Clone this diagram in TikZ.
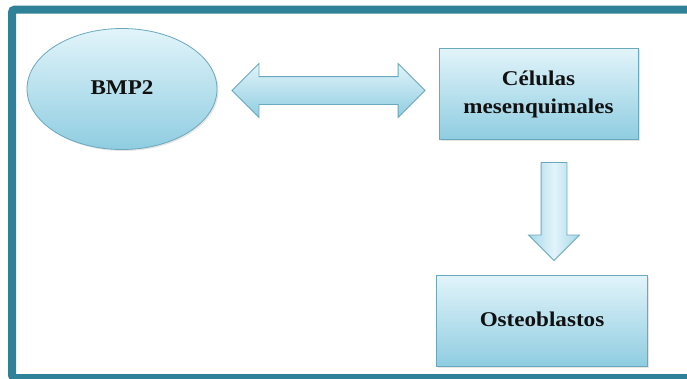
\documentclass[tikz,border=0pt]{standalone}
\usepackage{fontspec}
\setmainfont{Liberation Serif}
\usetikzlibrary{shapes.geometric,shapes.arrows,shadows}
\definecolor{frameteal}{HTML}{2F8199}
\definecolor{shapeedge}{HTML}{6AA8BE}
\definecolor{filltop}{HTML}{E2F4FA}
\definecolor{fillbot}{HTML}{8FCDE1}
\definecolor{textdark}{HTML}{111111}
\newcommand\widetext[1]{\scalebox{1.1}[1]{\begin{tabular}{@{}c@{}}#1\end{tabular}}}
\tikzset{
  blueshape/.style={draw=shapeedge, line width=0.8pt, top color=filltop, bottom color=fillbot,
    drop shadow={shadow xshift=1.5pt, shadow yshift=-1.5pt, fill=black!20, opacity=0.5}},
  boxnode/.style={blueshape, rectangle, minimum width=199pt, minimum height=91pt, inner sep=0pt,
    font=\bfseries\fontsize{21}{28}\selectfont, text=textdark, align=center},
  ellnode/.style={blueshape, ellipse, minimum width=190pt, minimum height=121pt, inner sep=0pt,
    font=\bfseries\fontsize{21}{28}\selectfont, text=textdark},
  dblarrow/.style={draw=shapeedge, line width=0.8pt, top color=filltop, bottom color=fillbot,
    double arrow, double arrow head extend=13pt, double arrow tip angle=90,
    minimum height=193pt, inner sep=13.5pt},
  downarrow/.style={draw=shapeedge, line width=0.8pt, left color=fillbot!80, right color=fillbot!80, middle color=filltop,
    single arrow, single arrow head extend=12.5pt, single arrow tip angle=90,
    minimum height=98pt, inner sep=12.5pt, shape border rotate=270}
}
\begin{document}
\begin{tikzpicture}[x=1pt,y=-1pt]
\useasboundingbox (0,0) rectangle (687,378);
\begin{scope}
\clip (0,0) rectangle (687,378);
\fill[white] (0,0) rectangle (687,378);
\draw[frameteal, line width=8pt, rounded corners=3pt] (12,9.5) rectangle (700,378);
\end{scope}
\node[ellnode] (bmp) at (122,89) {\widetext{BMP2}};
\node[boxnode] (cel) at (538.5,93.5) {\widetext{Células\\mesenquimales}};
\node[boxnode, minimum width=211pt] (ost) at (542,320.5) {\raisebox{4pt}{\widetext{Osteoblastos}}};
\node[dblarrow] (da) at (328.5,90.5) {};
\node[downarrow] (va) at (554,205) {};
\end{tikzpicture}
\end{document}
